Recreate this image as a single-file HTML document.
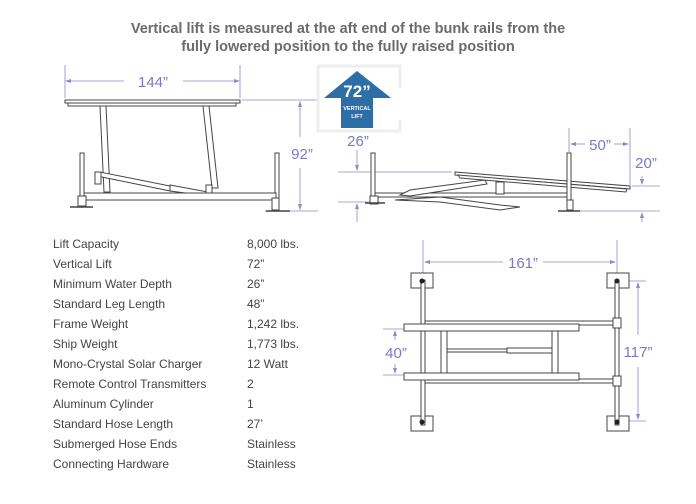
<!DOCTYPE html>
<html><head><style>
body{margin:0;background:#fff;}
svg{display:block;}
text{font-family:"Liberation Sans",sans-serif;}
.t{fill:#444;font-size:12px;}
.d{fill:#7b78c6;font-size:15px;text-anchor:middle;}
.ln{stroke:#444;fill:#fff;stroke-width:1;}
.dm{stroke:#8c8ad0;stroke-width:0.8;fill:none;}
.ar{fill:#8c8ad0;}
</style></head><body>
<svg width="696" height="504" viewBox="0 0 696 504" xmlns="http://www.w3.org/2000/svg">
<text x="348" y="33" text-anchor="middle" style="font-size:14.5px;font-weight:bold;fill:#6b6b6b">Vertical lift is measured at the aft end of the bunk rails from the</text>
<text x="348" y="51" text-anchor="middle" style="font-size:14.5px;font-weight:bold;fill:#6b6b6b">fully lowered position to the fully raised position</text>

<!-- side view 1 -->
<g class="dm"><line x1="65" y1="65" x2="65" y2="98"/><line x1="240" y1="65" x2="240" y2="98"/>
<line x1="66" y1="81" x2="124" y2="81"/><line x1="183" y1="81" x2="239" y2="81"/>
<line x1="242" y1="100" x2="318" y2="100"/><line x1="265" y1="211" x2="318" y2="211"/>
<line x1="300" y1="101" x2="300" y2="137"/><line x1="300" y1="168" x2="300" y2="210"/></g>
<path class="ar" d="M65 81l6-2v4zM240 81l-6-2v4zM300 101l-2 6h4zM300 210l-2-6h4z"/>
<text class="d" x="153" y="87">144”</text>
<text class="d" x="302" y="159">92”</text>
<g class="ln">
<rect x="65" y="100" width="175" height="3"/><rect x="68" y="103" width="168" height="3"/>
<polygon points="100,106 106,106 110,192 104,192"/>
<polygon points="203,106 209,106 218,188 212,188"/>
<polygon points="97,176 100,172 170,186 170,191"/>
<polygon points="170,185 208,192 208,196 170,191"/>
<rect x="80" y="153" width="4" height="47"/><rect x="275" y="153" width="4" height="48"/>
<rect x="84" y="193" width="192" height="7"/>
<rect x="95" y="172" width="6" height="12"/><rect x="206" y="185" width="6" height="8"/>
<rect x="78" y="196" width="8" height="10"/><rect x="272" y="198" width="7" height="12"/>
</g>
<line x1="70" y1="207" x2="93" y2="207" stroke="#444" stroke-width="1.5"/>
<line x1="266" y1="211" x2="290" y2="211" stroke="#444" stroke-width="1.5"/>

<!-- arrow box -->
<path d="M400 88V66H318V131H400V120" fill="none" stroke="#eee" stroke-width="3"/>
<polygon points="357,71 391,98 373,98 373,128 341,128 341,98 324,98" fill="#2e6ea6"/>
<text x="357" y="97" text-anchor="middle" style="font-size:17px;font-weight:bold;fill:#fff">72”</text>
<text x="357" y="110" text-anchor="middle" style="font-size:5.5px;font-weight:bold;fill:#fff">VERTICAL</text>
<text x="357" y="118" text-anchor="middle" style="font-size:5.5px;font-weight:bold;fill:#fff">LIFT</text>

<!-- side view 2 -->
<text class="d" x="358" y="146">26”</text>
<g class="dm"><line x1="357" y1="150" x2="357" y2="170"/><line x1="338" y1="172" x2="452" y2="172"/>
<line x1="338" y1="202" x2="380" y2="202"/><line x1="357" y1="204" x2="357" y2="222"/>
<line x1="569" y1="128" x2="569" y2="152"/><line x1="630" y1="128" x2="630" y2="185"/>
<line x1="571" y1="144" x2="585" y2="144"/><line x1="614" y1="144" x2="628" y2="144"/>
<line x1="632" y1="186" x2="660" y2="186"/><line x1="565" y1="211" x2="660" y2="211"/>
<line x1="642" y1="176" x2="642" y2="184"/><line x1="642" y1="213" x2="642" y2="222"/></g>
<path class="ar" d="M357 171l-2-6h4zM357 203l-2 6h4zM570 144l6-2v4zM629 144l-6-2v4zM642 185l-2-6h4zM642 212l-2 6h4z"/>
<text class="d" x="600" y="150">50”</text>
<text class="d" x="646" y="168">20”</text>
<g class="ln">
<polygon points="455,172 630,186 630,189 455,175"/>
<polygon points="458,175 627,189 626,192 460,178"/>
<rect x="371" y="153" width="4" height="47"/><rect x="567" y="153" width="4" height="52"/>
<rect x="375" y="193" width="192" height="4"/>
<polygon points="400,195 410,190 485,180 487,184 410,196"/>
<polygon points="395,200 440,197 500,205 520,207 500,210 440,202"/>
<rect x="496" y="182" width="8" height="12"/>
<rect x="370" y="196" width="8" height="8"/><rect x="567" y="200" width="6" height="10"/>
</g>
<line x1="365" y1="203" x2="385" y2="203" stroke="#444" stroke-width="1.5"/>
<line x1="558" y1="211" x2="580" y2="211" stroke="#444" stroke-width="1.5"/>

<!-- table -->
<g class="t">
<text x="53" y="248">Lift Capacity</text><text x="247" y="248">8,000 lbs.</text>
<text x="53" y="268">Vertical Lift</text><text x="247" y="268">72”</text>
<text x="53" y="288">Minimum Water Depth</text><text x="247" y="288">26”</text>
<text x="53" y="308">Standard Leg Length</text><text x="247" y="308">48”</text>
<text x="53" y="328">Frame Weight</text><text x="247" y="328">1,242 lbs.</text>
<text x="53" y="348">Ship Weight</text><text x="247" y="348">1,773 lbs.</text>
<text x="53" y="368">Mono-Crystal Solar Charger</text><text x="247" y="368">12 Watt</text>
<text x="53" y="388">Remote Control Transmitters</text><text x="247" y="388">2</text>
<text x="53" y="408">Aluminum Cylinder</text><text x="247" y="408">1</text>
<text x="53" y="428">Standard Hose Length</text><text x="247" y="428">27’</text>
<text x="53" y="448">Submerged Hose Ends</text><text x="247" y="448">Stainless</text>
<text x="53" y="468">Connecting Hardware</text><text x="247" y="468">Stainless</text>
</g>

<!-- top view -->
<g class="dm"><line x1="423" y1="240" x2="423" y2="273"/><line x1="617" y1="240" x2="617" y2="273"/>
<line x1="425" y1="262" x2="503" y2="262"/><line x1="543" y1="262" x2="615" y2="262"/>
<line x1="618" y1="281" x2="646" y2="281"/><line x1="618" y1="421" x2="646" y2="421"/>
<line x1="638" y1="283" x2="638" y2="335"/><line x1="638" y1="367" x2="638" y2="419"/>
<line x1="383" y1="329" x2="404" y2="329"/><line x1="383" y1="375" x2="404" y2="375"/>
<line x1="395" y1="331" x2="395" y2="340"/><line x1="395" y1="364" x2="395" y2="373"/></g>
<path class="ar" d="M424 262l6-2v4zM616 262l-6-2v4zM638 282l-2 6h4zM638 420l-2-6h4zM395 330l-2 6h4zM395 374l-2-6h4z"/>
<text class="d" x="523" y="268">161”</text>
<text class="d" x="638" y="357">117”</text>
<text class="d" x="396" y="358">40”</text>
<g class="ln">
<rect x="411" y="273" width="22" height="15"/><rect x="607" y="273" width="22" height="15"/>
<rect x="411" y="416" width="22" height="15"/><rect x="607" y="416" width="22" height="15"/>
<rect x="421" y="280" width="4" height="145"/><rect x="615" y="280" width="4" height="145"/>
<rect x="425" y="321" width="190" height="4"/><rect x="425" y="379" width="190" height="4"/>
<rect x="404" y="324" width="175" height="7"/><rect x="404" y="373" width="175" height="7"/>
<rect x="441" y="331" width="6" height="42"/><rect x="552" y="331" width="6" height="42"/>
<rect x="447" y="349" width="60" height="3"/><rect x="507" y="348" width="45" height="5"/>
<rect x="613" y="318" width="8" height="10"/><rect x="613" y="376" width="8" height="10"/>
</g>
<g fill="#222"><circle cx="422" cy="281" r="2.5"/><circle cx="617" cy="281" r="2.5"/><circle cx="422" cy="422" r="2.5"/><circle cx="617" cy="422" r="2.5"/></g>
</svg>
</body></html>
